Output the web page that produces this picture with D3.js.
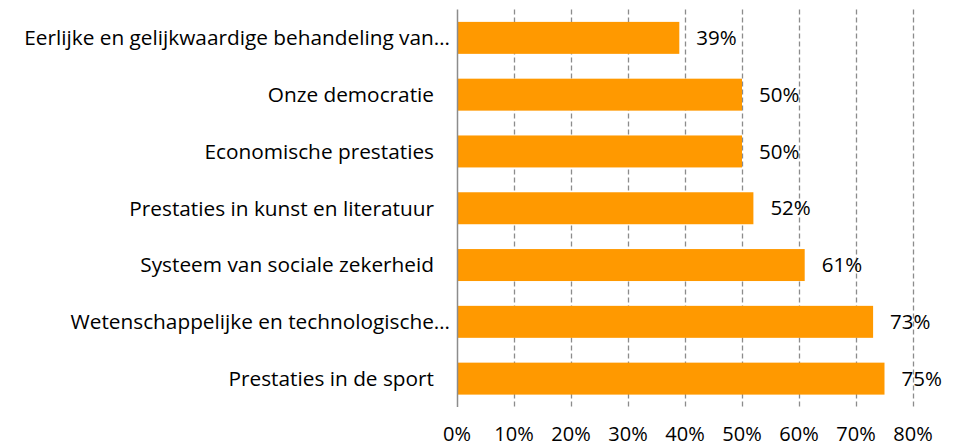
<!DOCTYPE html>
<html>
<head>
<meta charset="utf-8">
<script src="https://cdn.jsdelivr.net/npm/d3@7"></script>
<style>
  html, body { margin: 0; padding: 0; background: #fff; }
  text { font-family: "Open Sans", "Noto Sans", sans-serif; fill: #000; }
</style>
</head>
<body>
<div id="chart"></div>
<script>
const categories = [
    "Eerlijke en gelijkwaardige behandeling van…",
    "Onze democratie",
    "Economische prestaties",
    "Prestaties in kunst en literatuur",
    "Systeem van sociale zekerheid",
    "Wetenschappelijke en technologische…",
    "Prestaties in de sport"
];
const values = [39, 50, 50, 52, 61, 73, 75];
const ticks = [0, 10, 20, 30, 40, 50, 60, 70, 80];

const width = 960;
const height = 447;

let x = d3.scaleLinear()
    .domain([0, 80])
    .range([457, 913]);

let y = d3.scaleBand()
    .domain(categories)
    .range([9.5, 407])
    .paddingInner(0.437)
    .paddingOuter(0.218);

let svg = d3.select("#chart")
    .append("svg")
    .attr("width", width)
    .attr("height", height);

// dashed gridlines
svg.selectAll("line.grid")
    .data(ticks.slice(1))
    .enter()
    .append("line")
    .attr("class", "grid")
    .attr("x1", d => x(d) + 0.5)
    .attr("x2", d => x(d) + 0.5)
    .attr("y1", 9.5)
    .attr("y2", 407)
    .attr("stroke", "#8c8c8c")
    .attr("stroke-width", 1.3)
    .attr("stroke-dasharray", "5,3");

svg.selectAll("rect.bar")
    .data(values)
    .enter()
    .append("rect")
    .attr("class", "bar")
    .attr("x", x(0))
    .attr("y", (d, i) => y(categories[i]))
    .attr("width", d => x(d) - x(0))
    .attr("height", y.bandwidth())
    .attr("fill", "#ff9900");

// axis line
svg.append("line")
    .attr("x1", x(0) + 0.5)
    .attr("x2", x(0) + 0.5)
    .attr("y1", 9.5)
    .attr("y2", 407)
    .attr("stroke", "#8c8c8c")
    .attr("stroke-width", 1.5);

svg.selectAll("text.value")
    .data(values)
    .enter()
    .append("text")
    .attr("class", "value")
    .text(d => d + "%")
    .attr("x", d => x(d) + 17)
    .attr("y", (d, i) => y(categories[i]) + y.bandwidth() / 2)
    .attr("dy", "0.35em")
    .attr("font-size", 20.5);

svg.selectAll("text.category")
    .data(categories)
    .enter()
    .append("text")
    .attr("class", "category")
    .text(c => c)
    .attr("x", c => c.endsWith("…") ? x(0) - 7 : x(0) - 23)
    .attr("y", c => y(c) + y.bandwidth() / 2)
    .attr("dy", "0.35em")
    .attr("text-anchor", "end")
    .attr("font-size", 20.8);

svg.selectAll("text.tick")
    .data(ticks)
    .enter()
    .append("text")
    .attr("class", "tick")
    .text(d => d + "%")
    .attr("x", d => x(d))
    .attr("y", 441)
    .attr("text-anchor", "middle")
    .attr("font-size", 20);
</script>
</body>
</html>
